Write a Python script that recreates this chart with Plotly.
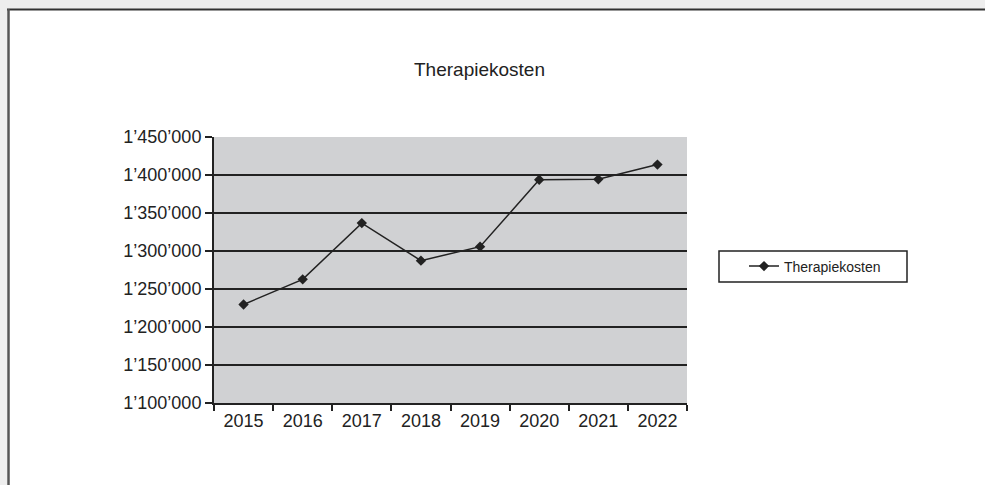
import plotly.graph_objects as go

years = ["2015", "2016", "2017", "2018", "2019", "2020", "2021", "2022"]
costs = [1229600, 1262700, 1336700, 1287300, 1305700, 1393800, 1394300, 1413700]
series_name = "Therapiekosten"
chart_title = "Therapiekosten"
y_tick_vals = [1100000, 1150000, 1200000, 1250000, 1300000, 1350000, 1400000, 1450000]
y_tick_text = ["1\u2019100\u2019000", "1\u2019150\u2019000", "1\u2019200\u2019000", "1\u2019250\u2019000",
               "1\u2019300\u2019000", "1\u2019350\u2019000", "1\u2019400\u2019000", "1\u2019450\u2019000"]

W, H = 985, 485
# plot area in page pixels
L, R, T, B = 214, 687, 137, 403

def px(x):
    return (x - L) / (R - L)

def py(y):
    return (B - y) / (B - T)

FONT = "Liberation Sans, Arial, sans-serif"
DARK = "#222222"
OUTER = "#eeeeee"

fig = go.Figure()
fig.add_trace(go.Scatter(
    x=years, y=costs, mode="lines+markers", name=series_name,
    line=dict(color=DARK, width=1.5),
    marker=dict(symbol="diamond", size=8, color=DARK),
))

shapes = [
    # grey strips outside the panel
    dict(type="rect", xref="paper", yref="paper", x0=px(-5), x1=px(W + 5), y0=py(9), y1=py(-5),
         fillcolor=OUTER, line=dict(width=0), layer="above"),
    dict(type="rect", xref="paper", yref="paper", x0=px(-5), x1=px(7), y0=py(H + 5), y1=py(-5),
         fillcolor=OUTER, line=dict(width=0), layer="above"),
    # panel borders
    dict(type="line", xref="paper", yref="paper", x0=px(7), x1=px(W + 5), y0=py(9.5), y1=py(9.5),
         line=dict(color="#333333", width=2), layer="above"),
    dict(type="line", xref="paper", yref="paper", x0=px(8.5), x1=px(8.5), y0=py(9), y1=py(H + 5),
         line=dict(color="#555555", width=2.5), layer="above"),
    # legend box
    dict(type="rect", xref="paper", yref="paper", x0=px(719), x1=px(907), y0=py(282), y1=py(251),
         fillcolor="white", line=dict(color=DARK, width=1.5), layer="below"),
]

fig.update_layout(
    width=W, height=H,
    margin=dict(l=L, r=W - R, t=T, b=H - B, pad=0),
    paper_bgcolor="white",
    plot_bgcolor="#d0d1d3",
    font=dict(family=FONT, color=DARK),
    title=dict(text=chart_title, x=479.5 / W, xref="container", xanchor="center",
               y=1 - 69 / H, yref="container", yanchor="middle",
               font=dict(size=19, color=DARK)),
    showlegend=True,
    legend=dict(x=px(815), y=py(266.5), xanchor="center", yanchor="middle",
                bgcolor="rgba(0,0,0,0)", borderwidth=0, font=dict(size=14, color=DARK)),
    shapes=shapes,
    xaxis=dict(
        type="category", range=[-0.5, 7.5], tickson="boundaries",
        showgrid=False, showline=True, linecolor=DARK, linewidth=2,
        ticks="outside", ticklen=6, tickwidth=1.5, tickcolor=DARK,
        tickfont=dict(size=18, color=DARK), zeroline=False,
    ),
    yaxis=dict(
        range=[1100000, 1450000], tickvals=y_tick_vals, ticktext=y_tick_text,
        showgrid=True, gridcolor=DARK, gridwidth=1.5,
        showline=True, linecolor=DARK, linewidth=2,
        ticks="outside", ticklen=7, tickwidth=1.5, tickcolor=DARK,
        tickfont=dict(size=18, color=DARK), zeroline=False,
    ),
)

fig.write_html("out.html",
               config={"displayModeBar": False},
               post_script="document.body.style.margin='0';document.body.style.overflow='hidden';")
